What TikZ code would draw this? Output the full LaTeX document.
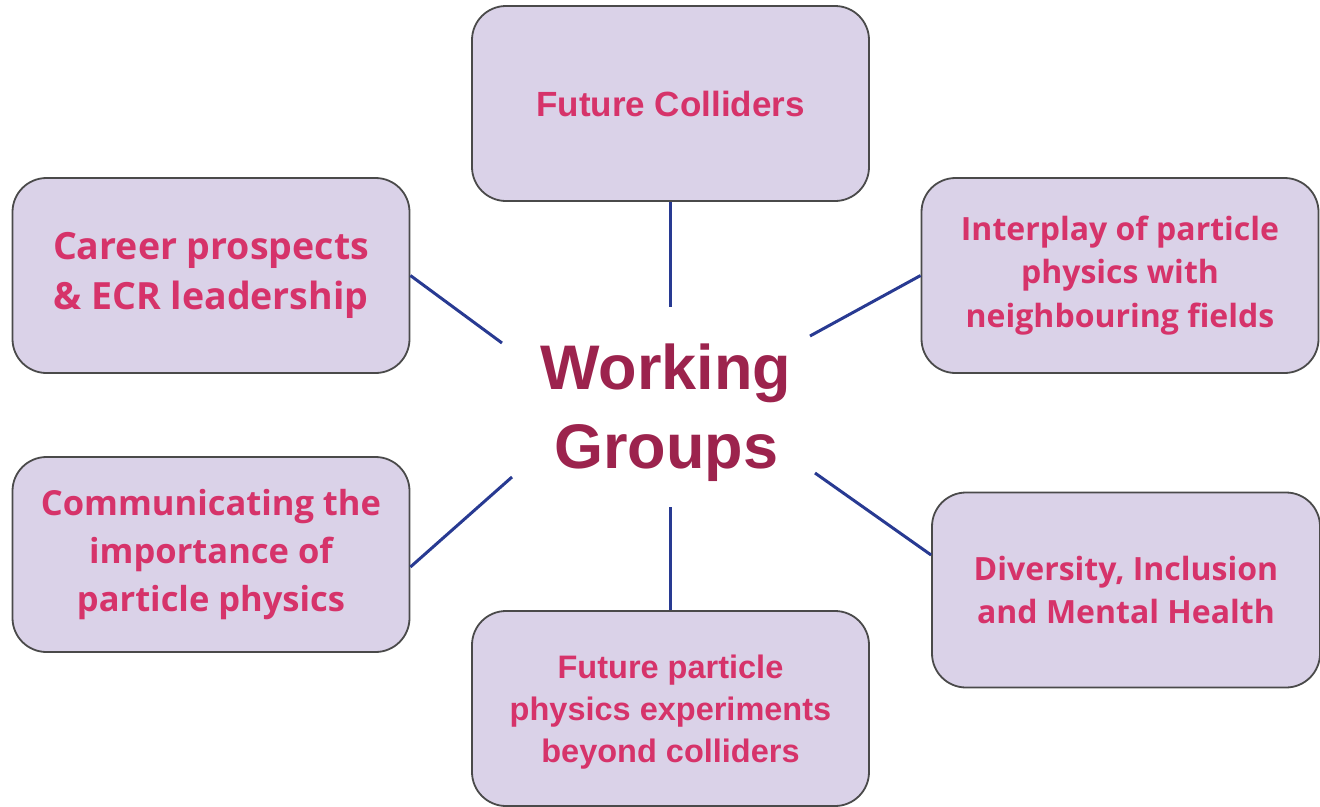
\documentclass[tikz,border=0pt]{standalone}
\usepackage{fontspec}
\setmainfont{Open Sans}
\newfontfamily\robo{Liberation Sans}
\definecolor{boxfill}{HTML}{DAD2E8}
\definecolor{boxline}{HTML}{4A4A4A}
\definecolor{wgpink}{HTML}{D6336A}
\definecolor{wgdark}{HTML}{9C234D}
\definecolor{connblue}{HTML}{283A92}
\tikzset{
  wgbox/.style={draw=boxline, line width=1.8pt, fill=boxfill, rounded corners=34pt,
    minimum width=397pt, minimum height=195pt, align=center, text=wgpink, inner sep=0pt},
  conn/.style={draw=connblue, line width=3pt},
}
\begin{document}
\begin{tikzpicture}[x=1pt,y=-1pt]
\useasboundingbox (0,0) rectangle (1320,806);
\clip (0,0) rectangle (1320,806);
\node[wgbox, font=\robo\bfseries\fontsize{35}{44}\selectfont] (fc) at (670.5,103.5) {Future Colliders};
\node[wgbox, font=\bfseries\fontsize{37.5}{50}\selectfont] (cp) at (211,275.5) {Career prospects\\\& ECR leadership};
\node[wgbox, font=\bfseries\fontsize{32}{43.5}\selectfont] (ip) at (1120,275.5) {Interplay of particle\\physics with\\neighbouring fields};
\node[wgbox, font=\bfseries\fontsize{34.5}{48}\selectfont] (cm) at (211,554.5) {Communicating the\\importance of\\particle physics};
\node[wgbox, minimum width=388pt, font=\bfseries\fontsize{32}{43}\selectfont] (dv) at (1126,590) {Diversity, Inclusion\\and Mental Health};
\node[wgbox, font=\robo\bfseries\fontsize{32.5}{42}\selectfont] (fp) at (670.5,708.5) {\rule{0pt}{31pt}Future particle\\physics experiments\\beyond colliders};
\node[align=center, text=wgdark, font=\robo\bfseries\fontsize{63}{79}\selectfont] (wg) at (666,413) {Working\\Groups};
\coordinate (eT) at (670.5,307);
\coordinate (eB) at (670.5,507);
\coordinate (eUL) at (502,343);
\coordinate (eUR) at (810,336);
\coordinate (eLL) at (512,477);
\coordinate (eLR) at (815,473);
\draw[conn] (fc.south) -- (eT);
\draw[conn] (fp.north) -- (eB);
\draw[conn] (cp.east) -- (eUL);
\draw[conn] (ip.west) -- (eUR);
\draw[conn] ([yshift=-12.5pt]cm.east) -- (eLL);
\draw[conn] ([yshift=35pt]dv.west) -- (eLR);
\end{tikzpicture}
\end{document}
